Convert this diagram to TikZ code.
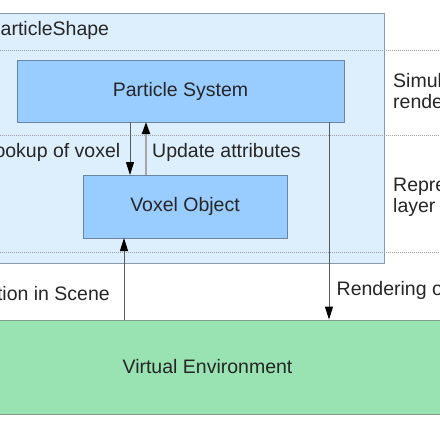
\documentclass[tikz,border=0pt]{standalone}
\usepackage{fontspec}
\setmainfont{Liberation Sans}
\usetikzlibrary{arrows.meta,calc}
\definecolor{outerfill}{HTML}{DDEEFC}
\definecolor{outerdraw}{HTML}{8A9AAA}
\definecolor{boxfill}{HTML}{99CCFF}
\definecolor{boxdraw}{HTML}{6A86A2}
\definecolor{envfill}{HTML}{99E2B2}
\definecolor{envdraw}{HTML}{7F9A88}
\definecolor{dotcol}{HTML}{9AA0A6}
\tikzset{
  lbl/.style={font=\fontsize{19.5}{21.5}\selectfont, inner sep=0pt, text=black!85},
  sysbox/.style={draw=boxdraw, fill=boxfill, line width=0.9pt, inner sep=0pt, outer sep=0pt, font=\fontsize{19.5}{21.5}\selectfont, text=black!85},
  arr/.style={line width=0.9pt, draw=black!65, -{Triangle[length=13pt,width=8pt,fill=black,color=black]}},
  arrgray/.style={line width=2pt, draw=black!35, -{Triangle[length=12pt,width=8pt,fill=black,color=black]}},
  sep/.style={dotcol, line width=0.7pt, dash pattern=on 1pt off 1pt}
}
\begin{document}
\begin{tikzpicture}[x=1pt,y=-1pt]
\useasboundingbox (0,0) rectangle (440,440);
\clip (0,0) rectangle (440,440);
\fill[white] (0,0) rectangle (440,440);
% outer container
\node[draw=outerdraw, fill=outerfill, line width=0.9pt, inner sep=0pt, minimum width=484pt, minimum height=250pt] (outer) at (142,138) {};
\node[lbl, anchor=base west] (title) at (-12.5,35) {ParticleShape};
% separators
\draw[sep] (-60,50) coordinate (s1a) -- (500,50) coordinate (s1b);
\draw[sep] (-60,135) coordinate (s2a) -- (500,135) coordinate (s2b);
\draw[sep] (-60,252) coordinate (s3a) -- (500,252) coordinate (s3b);
% boxes
\node[sysbox, minimum width=327pt, minimum height=62pt] (ps) at (180.5,91) {Particle System};
\node[sysbox, minimum width=204pt, minimum height=63pt] (vo) at (185,206.5) {Voxel Object};
\node[draw=envdraw, fill=envfill, line width=0.9pt, inner sep=0pt, minimum width=600pt, minimum height=94pt, font=\fontsize{19.5}{21.5}\selectfont, text=black!85] (env) at (207.5,367) {Virtual Environment};
% connectors
\draw[arr] ([xshift=-50.5pt]ps.south) -- ([xshift=-55pt]vo.north);
\draw[arrgray] ([xshift=-39pt]vo.north) -- ([xshift=-34.5pt]ps.south);
\draw[arr] ([xshift=148.5pt]ps.south) -- ([xshift=121.5pt]env.north);
\draw[arr] ([xshift=-83.5pt]env.north) -- ([xshift=-61pt]vo.south);
% labels
\node[lbl, anchor=base east] (l1) at (120.5,157) {Lookup of voxel};
\node[lbl, anchor=base west] (l2) at (152,157) {Update attributes};
\node[lbl, anchor=base east] (l3) at (110,300) {Position in Scene};
\node[lbl, anchor=base west] (l4) at (336.5,295) {Rendering of particles};
\node[lbl, anchor=base west, align=left] (r1) at (393,108.5) {Simulation and\\rendering layer};
\node[lbl, anchor=base west, align=left] (r2) at (393,212.5) {Representation\\layer};
\end{tikzpicture}
\end{document}
